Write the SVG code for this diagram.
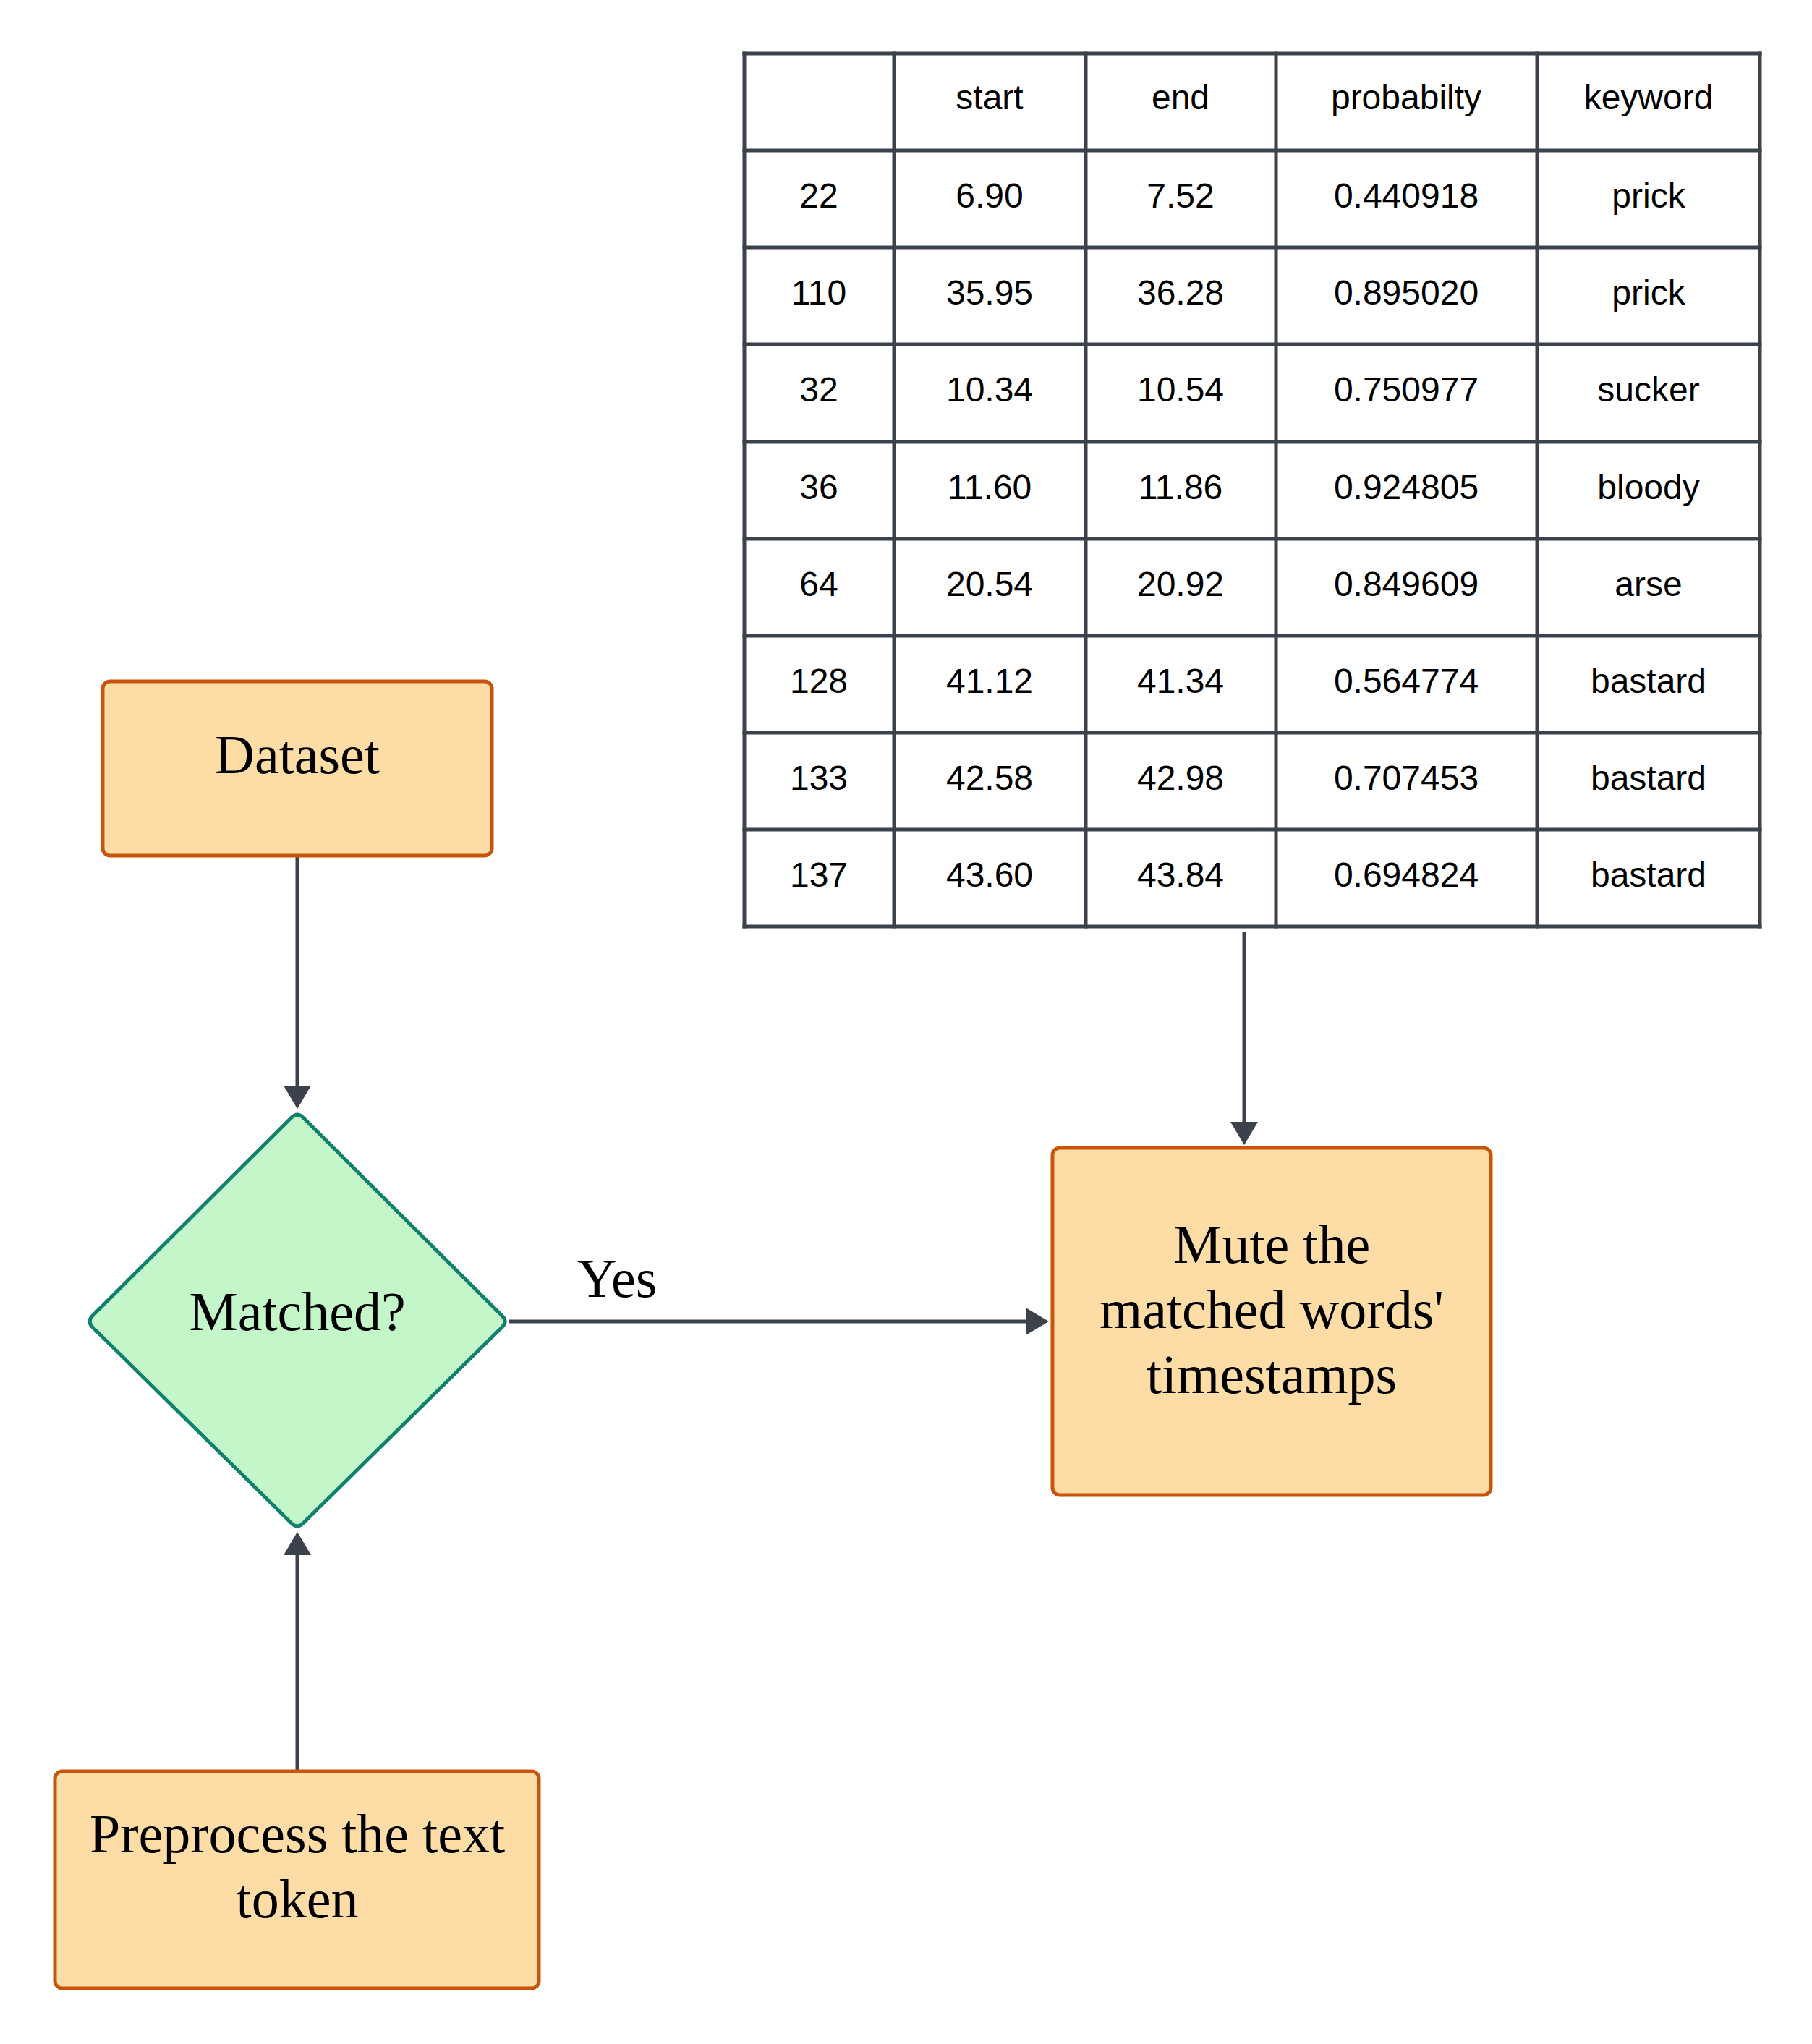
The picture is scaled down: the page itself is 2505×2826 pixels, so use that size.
<svg xmlns="http://www.w3.org/2000/svg" width="2505" height="2826" viewBox="0 0 2505 2826">
<style>
.box{fill:#FDDCA6;stroke:#C7560C;stroke-width:5}
.dia{fill:#C3F6C8;stroke:#11806F;stroke-width:5;stroke-linejoin:round}
.lbl{font-family:"Liberation Serif","Times New Roman",serif;font-size:76px;fill:#000;text-anchor:middle}
.grid{stroke:#3B424B;stroke-width:5;fill:none;stroke-linecap:square}
.cell{font-family:"Liberation Sans",Arial,sans-serif;font-size:48px;fill:#000;text-anchor:middle}
.conn{stroke:#3B424B;stroke-width:5;fill:none}
</style>
<defs>
<marker id="arr" markerUnits="userSpaceOnUse" markerWidth="32" markerHeight="38" refX="0" refY="19" orient="auto">
<path d="M0,0 L32,19 L0,38 z" fill="#3B424B"/>
</marker>
</defs>
<rect width="2505" height="2826" fill="#fff"/>

<g id="table">
<rect x="1029" y="74" width="1404" height="1207" fill="#fff"/>
<g class="grid">
<path d="M1029,74H2433M1029,208H2433M1029,342H2433M1029,476H2433M1029,611H2433M1029,745H2433M1029,879H2433M1029,1013H2433M1029,1147H2433M1029,1281H2433"/>
<path d="M1029,74V1281M1236,74V1281M1501,74V1281M1764,74V1281M2125,74V1281M2433,74V1281"/>
</g>
<g class="cell">
<text x="1368" y="151">start</text><text x="1632" y="151">end</text><text x="1944" y="151">probabilty</text><text x="2279" y="151">keyword</text>
<text x="1132" y="287">22</text><text x="1368" y="287">6.90</text><text x="1632" y="287">7.52</text><text x="1944" y="287">0.440918</text><text x="2279" y="287">prick</text>
<text x="1132" y="421">110</text><text x="1368" y="421">35.95</text><text x="1632" y="421">36.28</text><text x="1944" y="421">0.895020</text><text x="2279" y="421">prick</text>
<text x="1132" y="555">32</text><text x="1368" y="555">10.34</text><text x="1632" y="555">10.54</text><text x="1944" y="555">0.750977</text><text x="2279" y="555">sucker</text>
<text x="1132" y="690">36</text><text x="1368" y="690">11.60</text><text x="1632" y="690">11.86</text><text x="1944" y="690">0.924805</text><text x="2279" y="690">bloody</text>
<text x="1132" y="824">64</text><text x="1368" y="824">20.54</text><text x="1632" y="824">20.92</text><text x="1944" y="824">0.849609</text><text x="2279" y="824">arse</text>
<text x="1132" y="958">128</text><text x="1368" y="958">41.12</text><text x="1632" y="958">41.34</text><text x="1944" y="958">0.564774</text><text x="2279" y="958">bastard</text>
<text x="1132" y="1092">133</text><text x="1368" y="1092">42.58</text><text x="1632" y="1092">42.98</text><text x="1944" y="1092">0.707453</text><text x="2279" y="1092">bastard</text>
<text x="1132" y="1226">137</text><text x="1368" y="1226">43.60</text><text x="1632" y="1226">43.84</text><text x="1944" y="1226">0.694824</text><text x="2279" y="1226">bastard</text>
</g>
</g>

<g id="connectors">
<path class="conn" d="M411,1183V1501" marker-end="url(#arr)"/>
<path class="conn" d="M411,2449V2150" marker-end="url(#arr)"/>
<path class="conn" d="M703,1827H1418" marker-end="url(#arr)"/>
<path class="conn" d="M1720,1289V1551" marker-end="url(#arr)"/>
<text class="lbl" x="853" y="1793">Yes</text>
</g>

<g id="dataset">
<rect class="box" x="142" y="942" width="538" height="241" rx="10"/>
<text class="lbl" x="411" y="1069">Dataset</text>
</g>

<g id="matched">
<path class="dia" d="M403,1545Q411,1537 419,1545L694,1819Q702,1827 694,1835L419,2106Q411,2114 403,2106L128,1835Q120,1827 128,1819Z"/>
<text class="lbl" x="411" y="1839">Matched?</text>
</g>

<g id="mute">
<rect class="box" x="1455" y="1587" width="606" height="480" rx="10"/>
<text class="lbl" x="1758" y="1746">Mute the</text>
<text class="lbl" x="1758" y="1836">matched words'</text>
<text class="lbl" x="1758" y="1926">timestamps</text>
</g>

<g id="preprocess">
<rect class="box" x="76" y="2449" width="669" height="300" rx="10"/>
<text class="lbl" x="411" y="2561">Preprocess the text</text>
<text class="lbl" x="411" y="2651">token</text>
</g>
</svg>
